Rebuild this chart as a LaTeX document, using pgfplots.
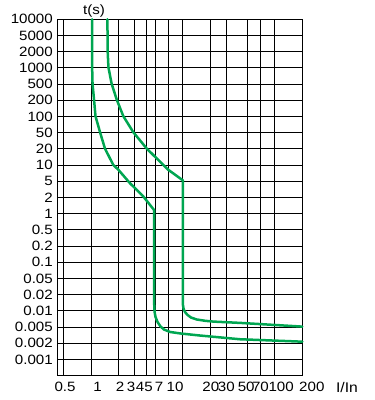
\documentclass[border=0pt]{standalone}
\usepackage{fontspec}
\setmainfont{Liberation Sans}[FakeStretch=1.12]
\usepackage{pgfplots}
\pgfplotsset{compat=1.18}
\definecolor{curvegreen}{RGB}{0,166,81}
\newcommand{\tl}[2]{\makebox[0pt]{\hspace*{#1}\hspace*{#1}#2}}
\begin{document}
\fontsize{13.5bp}{15bp}\selectfont
\begin{tikzpicture}
\useasboundingbox (-57.5bp,-24.3bp) rectangle (317.5bp,375.7bp);
\begin{axis}[
  at={(0,0)}, anchor=south west,
  scale only axis,
  width=244.8bp, height=356.4bp,
  xmode=log, log basis x=10,
  xmin=0.432, xmax=200,
  ymin=0, ymax=22,
  clip=false,
  xtick={0.5,1,2,3,4,5,7,10,20,30,50,70,100,200},
  xticklabels={\tl{1.7bp}{0.5},\tl{6.5bp}{1},\tl{1.5bp}{2},\tl{-3.8bp}{3},\tl{-6.3bp}{4},\tl{-6.5bp}{5},\tl{-9.6bp}{7},\tl{-7.8bp}{10},\tl{0.3bp}{20},\tl{-0.3bp}{30},\tl{-0.8bp}{50},\tl{0bp}{70},\tl{6.5bp}{100},\tl{9.5bp}{200}},
  minor xtick={},
  ytick={1,...,22},
  yticklabels={0.001,0.002,0.005,0.01,0.02,0.05,0.1,0.2,0.5,1,2,5,10,20,50,100,200,500,1000,2000,5000,10000},
  /pgf/number format/assume math mode=true,
  grid=major,
  major grid style={black, line width=0.8bp},
  axis line style={black, line width=1.3bp},
  major tick length=0pt,
  tick style={draw=none},
  xticklabel style={yshift=-1.5bp},
  tick label style={font=\fontsize{13.5bp}{15bp}\selectfont},
]
\addplot[curvegreen, line width=2.5bp, line join=round, line cap=round] coordinates {
  (1.03,22) (1.03,19.02) (1.04,18.02) (1.08,17.03) (1.12,16.02) (1.255,15.03)
  (1.42,14.02) (1.75,13.01) (1.99,12.71) (2.66,11.88) (3.72,11.06) (4.86,10.23)
  (4.885,9.6) (4.885,4.37) (4.93,3.93) (5.04,3.63) (5.30,3.32) (5.72,3.04)
  (6.24,2.85) (7.26,2.70) (9.32,2.61) (15.4,2.48) (41.9,2.25) (200,2.10)
};
\addplot[curvegreen, line width=2.5bp, line join=round, line cap=round] coordinates {
  (1.51,22) (1.52,20.01) (1.55,19.02) (1.68,18.02) (1.91,17.03) (2.25,16.02)
  (2.89,15.03) (4.05,14.02) (6.13,13.01) (6.95,12.71) (10,12.06)
  (10,4.68) (10.03,4.37) (10.2,4.12) (10.57,3.93) (11.25,3.75) (12.28,3.59)
  (14.17,3.47) (17.45,3.39) (21.5,3.34) (41.9,3.26) (200,3.03)
};
\node[anchor=center, font=\fontsize{13.5bp}{15bp}\selectfont] at (axis cs:1.08,22) [yshift=8.3bp] {t(s)};
\node[anchor=center, font=\fontsize{14bp}{15bp}\selectfont] at (rel axis cs:1,0) [xshift=44.7bp, yshift=-11.3bp] {I/In};
\end{axis}
\end{tikzpicture}
\end{document}
